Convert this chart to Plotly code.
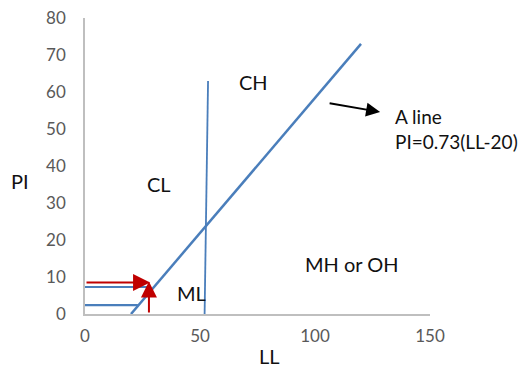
import plotly.graph_objects as go

# A line: PI = 0.73 (LL - 20)
a_line_ll = [20, 120]
a_line_pi = [0, 73]

# near-vertical LL=50 boundary line
u_line_ll = [52, 53.5]
u_line_pi = [0, 63]

# short horizontal blue lines
h_upper_ll = [0, 27]
h_upper_pi = [7.3, 7.3]
h_lower_ll = [0, 23]
h_lower_pi = [2.4, 2.4]

# red arrows (tail -> head)
red_h_tail = (0, 8.5)
red_h_head = (28.3, 8.5)
red_v_tail = (27.8, 0)
red_v_head = (27.8, 8.8)

# black arrow pointing at A-line label
black_tail = (105.7, 57)
black_head = (128.3, 54.6)

# zone labels
zone_text = ["CL", "CH", "ML", "MH or OH"]
zone_ll = [32.2, 73.3, 46.3, 116]
zone_pi = [35.1, 62.6, 5.8, 13.5]

x_ticks = [0, 50, 100, 150]
y_ticks = [0, 10, 20, 30, 40, 50, 60, 70, 80]

BLUE = "#4A7EBB"
RED = "#C00000"
FONT = "Lato"
LFS = 20

fig = go.Figure()
fig.add_trace(go.Scatter(x=a_line_ll, y=a_line_pi, mode="lines",
                         line=dict(color=BLUE, width=2.5), showlegend=False))
fig.add_trace(go.Scatter(x=u_line_ll, y=u_line_pi, mode="lines",
                         line=dict(color=BLUE, width=1.8), showlegend=False))
fig.add_trace(go.Scatter(x=h_upper_ll, y=h_upper_pi, mode="lines",
                         line=dict(color=BLUE, width=2.2), showlegend=False))
fig.add_trace(go.Scatter(x=h_lower_ll, y=h_lower_pi, mode="lines",
                         line=dict(color=BLUE, width=2.2), showlegend=False))

ann = []
for tail, head, col, sz in [(red_h_tail, red_h_head, RED, 1.7), (red_v_tail, red_v_head, RED, 1.6),
                            (black_tail, black_head, "black", 1.4)]:
    ann.append(dict(x=head[0], y=head[1], ax=tail[0], ay=tail[1],
                    xref="x", yref="y", axref="x", ayref="y",
                    showarrow=True, arrowhead=2, arrowsize=sz, arrowwidth=2,
                    arrowcolor=col, text=""))
for t, xx, yy in zip(zone_text, zone_ll, zone_pi):
    ann.append(dict(x=xx, y=yy, xref="x", yref="y", text=t, showarrow=False,
                    font=dict(family=FONT, size=LFS, color="#111111")))
ann.append(dict(x=134, y=50, xref="x", yref="y", xanchor="left",
                text="A line<br>PI=0.73(LL-20)", align="left", showarrow=False,
                font=dict(family=FONT, size=19, color="#111111")))

# page body has an 8px default margin; compensate so the plot lands where the reference has it
OFF = 8
W, H = 531 - OFF, 367 - OFF
L, T = 85 - OFF, 18 - OFF
pw, ph = 345, 296
R, B = W - L - pw, H - T - ph
def px2paper(px, py):
    return (px - OFF - L) / pw, (H - B - (py - OFF)) / ph
for t, px, py, xa, ya in [("PI", 9, 181, "left", "middle"), ("LL", 269, 342, "center", "top")]:
    xx, yy = px2paper(px, py)
    ann.append(dict(x=xx, y=yy, xref="paper", yref="paper", text=t, showarrow=False,
                    xanchor=xa, yanchor=ya,
                    font=dict(family=FONT, size=LFS, color="#111111")))

fig.update_layout(
    width=W, height=H, margin=dict(l=L, r=R, t=T, b=B, autoexpand=False),
    plot_bgcolor="white", paper_bgcolor="white",
    annotations=ann,
    xaxis=dict(range=[0, 150], tickvals=x_ticks, showgrid=False, zeroline=False,
               showline=True, linecolor="#BFBFBF", linewidth=1.5, automargin=False,
               tickfont=dict(family=FONT, size=17, color="#595959"),
               ticks="", ticklabelstandoff=6, ticklabeloverflow="allow"),
    yaxis=dict(range=[0, 80], tickvals=y_ticks, showgrid=False, zeroline=False,
               showline=True, linecolor="#BFBFBF", linewidth=1.5, automargin=False,
               tickfont=dict(family=FONT, size=17, color="#595959"),
               ticks="", ticklabelstandoff=14, ticklabeloverflow="allow"),
)
fig.write_html("out.html")
